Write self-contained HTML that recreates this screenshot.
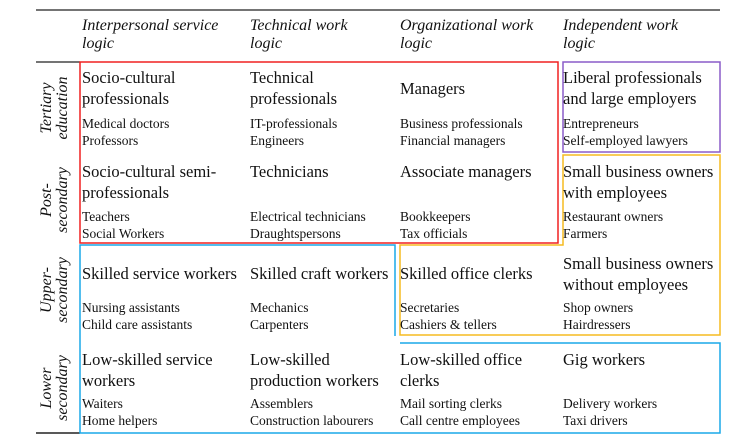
<!DOCTYPE html>
<html><head><meta charset="utf-8"><style>
body{margin:0;width:733px;height:438px;background:#fff;position:relative;overflow:hidden;font-family:"Liberation Serif",serif;color:#111}
.t{position:absolute;white-space:nowrap}
.h{font-style:italic;font-size:16px;line-height:18px}
.b{font-size:16.5px;line-height:21px}
.s{font-size:13.5px;line-height:17px}
.r{position:absolute;font-style:italic;font-size:16px;line-height:16px;text-align:center;transform:translate(-50%,-50%) rotate(-90deg);white-space:nowrap}
</style></head><body>
<svg width="733" height="438" style="position:absolute;left:0;top:0">
<line x1="36" y1="10" x2="720" y2="10" stroke="#222" stroke-width="1.2"/>
<line x1="36" y1="62" x2="80" y2="62" stroke="#222" stroke-width="1.2"/>
<line x1="36" y1="433" x2="80" y2="433" stroke="#222" stroke-width="1.5"/>
<rect x="80" y="62" width="478" height="181" fill="none" stroke="#f02020" stroke-width="1.5"/>
<rect x="563" y="62" width="157" height="90" fill="none" stroke="#8a5cc8" stroke-width="1.5"/>
<polygon points="563,155 720,155 720,335 400,335 400,245 563,245" fill="none" stroke="#f5bb20" stroke-width="1.5"/>
<polyline points="395,336 395,245 80,245 80,433 720,433 720,343 400,343" fill="none" stroke="#1aa8e8" stroke-width="1.5"/>
</svg>
<div class="t h" style="left:82px;top:17px">Interpersonal service<br>logic</div>
<div class="t h" style="left:250px;top:17px">Technical work<br>logic</div>
<div class="t h" style="left:400px;top:17px">Organizational work<br>logic</div>
<div class="t h" style="left:563px;top:17px">Independent work<br>logic</div>

<div class="r" style="left:55px;top:108px">Tertiary<br>education</div>
<div class="r" style="left:55px;top:200px">Post-<br>secondary</div>
<div class="r" style="left:55px;top:290px">Upper-<br>secondary</div>
<div class="r" style="left:55px;top:388px">Lower<br>secondary</div>

<div class="t b" style="left:82px;top:67px">Socio-cultural<br>professionals</div>
<div class="t s" style="left:82px;top:115px">Medical doctors<br>Professors</div>
<div class="t b" style="left:250px;top:67px">Technical<br>professionals</div>
<div class="t s" style="left:250px;top:115px">IT-professionals<br>Engineers</div>
<div class="t b" style="left:400px;top:78px">Managers</div>
<div class="t s" style="left:400px;top:115px">Business professionals<br>Financial managers</div>
<div class="t b" style="left:563px;top:67px">Liberal professionals<br>and large employers</div>
<div class="t s" style="left:563px;top:115px">Entrepreneurs<br>Self-employed lawyers</div>

<div class="t b" style="left:82px;top:161px">Socio-cultural semi-<br>professionals</div>
<div class="t s" style="left:82px;top:208px">Teachers<br>Social Workers</div>
<div class="t b" style="left:250px;top:161px">Technicians</div>
<div class="t s" style="left:250px;top:208px">Electrical technicians<br>Draughtspersons</div>
<div class="t b" style="left:400px;top:161px">Associate managers</div>
<div class="t s" style="left:400px;top:208px">Bookkeepers<br>Tax officials</div>
<div class="t b" style="left:563px;top:161px">Small business owners<br>with employees</div>
<div class="t s" style="left:563px;top:208px">Restaurant owners<br>Farmers</div>

<div class="t b" style="left:82px;top:263px">Skilled service workers</div>
<div class="t s" style="left:82px;top:299px">Nursing assistants<br>Child care assistants</div>
<div class="t b" style="left:250px;top:263px">Skilled craft workers</div>
<div class="t s" style="left:250px;top:299px">Mechanics<br>Carpenters</div>
<div class="t b" style="left:400px;top:263px">Skilled office clerks</div>
<div class="t s" style="left:400px;top:299px">Secretaries<br>Cashiers &amp; tellers</div>
<div class="t b" style="left:563px;top:253px">Small business owners<br>without employees</div>
<div class="t s" style="left:563px;top:299px">Shop owners<br>Hairdressers</div>

<div class="t b" style="left:82px;top:349px">Low-skilled service<br>workers</div>
<div class="t s" style="left:82px;top:395px">Waiters<br>Home helpers</div>
<div class="t b" style="left:250px;top:349px">Low-skilled<br>production workers</div>
<div class="t s" style="left:250px;top:395px">Assemblers<br>Construction labourers</div>
<div class="t b" style="left:400px;top:349px">Low-skilled office<br>clerks</div>
<div class="t s" style="left:400px;top:395px">Mail sorting clerks<br>Call centre employees</div>
<div class="t b" style="left:563px;top:349px">Gig workers</div>
<div class="t s" style="left:563px;top:395px">Delivery workers<br>Taxi drivers</div>
</body></html>
